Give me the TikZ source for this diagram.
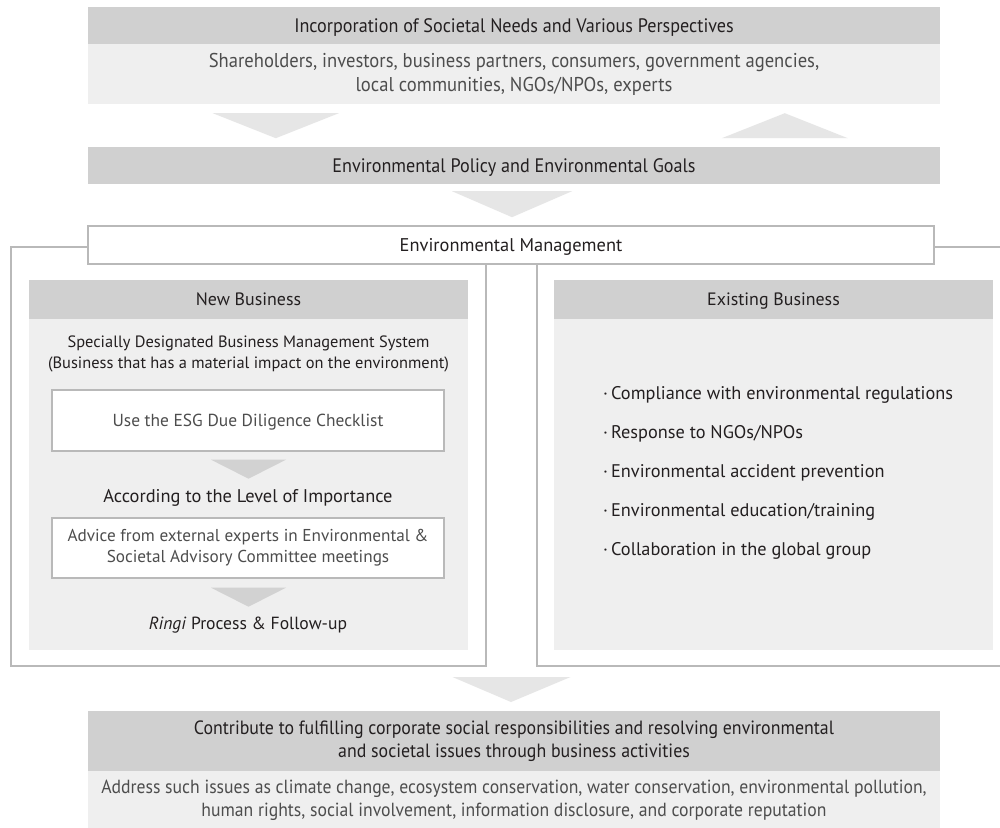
\documentclass[tikz,border=0pt]{standalone}
\usepackage{fontspec}
\setmainfont{PT Sans}
\newfontfamily\condf[FakeStretch=0.93]{PT Sans}
\usetikzlibrary{calc}
\definecolor{dgray}{HTML}{D0D0D0}
\definecolor{lgray}{HTML}{EFEFEF}
\definecolor{agray}{HTML}{E6E6E6}
\definecolor{igray}{HTML}{D2D2D2}
\definecolor{bgray}{HTML}{B9B9B9}
\definecolor{tdark}{HTML}{231F20}
\definecolor{tlight}{HTML}{4D4D4D}
\tikzset{
  darkbox/.style={fill=dgray, draw=none, inner sep=0pt, align=center, text=tdark,
    font=\condf\fontsize{19.5}{23}\selectfont},
  lightbox/.style={fill=lgray, draw=none, inner sep=0pt, align=center, text=tlight,
    font=\condf\fontsize{20}{24}\selectfont},
  oneline/.style={text depth=0pt},
  framebox/.style={fill=white, draw=bgray, line width=1.4pt, inner sep=0pt, align=center},
  subhead/.style={fill=dgray, draw=none, inner sep=0pt, align=center, text=tdark,
    text depth=0pt, font=\fontsize{17.9}{21}\selectfont},
  subbody/.style={fill=lgray, draw=none, inner sep=0pt},
  itemtext/.style={inner sep=0pt, align=center, text=tdark, font=\fontsize{18.4}{21}\selectfont},
  bullet/.style={inner sep=0pt, anchor=west, text=tdark, font=\fontsize{18.3}{21}\selectfont},
  frameline/.style={draw=bgray, line width=1.4pt},
  bigarrow/.style={fill=agray, draw=none},
  smallarrow/.style={fill=igray, draw=none}
}
\begin{document}
\begin{tikzpicture}[x=1pt,y=-1pt]
\useasboundingbox (0,0) rectangle (1000,827);
\fill[white] (0,0) rectangle (1000,827);

% top block
\node[darkbox, oneline, minimum width=852pt, minimum height=37pt] (h1) at (514,25.5)
  {Incorporation of Societal Needs and Various Perspectives};
\node[lightbox, minimum width=852pt, minimum height=60pt] (h1b) at (514,74)
  {Shareholders, investors, business partners, consumers, government agencies,\\local communities, NGOs/NPOs, experts};

% arrows between top and policy
\fill[bigarrow] ($(h1b.south west)+(125,9)$) -- ++(126,0) -- ($(h1b.south west)+(188,34)$) -- cycle;
\fill[bigarrow] ($(h1b.south west)+(634,34)$) -- ++(126,0) -- ($(h1b.south west)+(697,9)$) -- cycle;

\node[darkbox, oneline, minimum width=852pt, minimum height=37pt] (pol) at (514,165.5)
  {Environmental Policy and Environmental Goals};

\fill[bigarrow] ($(pol.south)+(-62,7)$) -- ++(120,0) -- ($(pol.south)+(-2,33)$) -- cycle;

% environmental management
\node[framebox, oneline, minimum width=846pt, minimum height=38pt, font=\fontsize{18.4}{21}\selectfont, text=tdark] (env) at (511,245)
  {Environmental Management};

\coordinate (lf1) at (11,247);
\coordinate (lf2) at (11,666);
\coordinate (lf3) at (486,666);
\coordinate (lf4) at (486,264);
\draw[frameline] (env.west |- lf1) -- (lf1) -- (lf2) -- (lf3) -- (lf4);

\coordinate (rf1) at (1001,247);
\coordinate (rf2) at (537,264);
\coordinate (rf3) at (537,666);
\coordinate (rf4) at (1001,666);
\draw[frameline] (env.east |- rf1) -- (rf1);
\draw[frameline] (rf2) -- (rf3) -- (rf4);

% New Business
\node[subhead, minimum width=439pt, minimum height=39pt] (nbh) at (248.5,299.5) {New Business};
\node[subbody, minimum width=439pt, minimum height=331pt] (nbb) at (248.5,484.5) {};
\node[itemtext, font=\fontsize{16.4}{21}\selectfont] (sdb) at (248.5,353.5)
  {Specially Designated Business Management System\\(Business that has a material impact on the environment)};
\node[framebox, oneline, minimum width=392pt, minimum height=61pt, text=tlight, font=\fontsize{17.4}{21}\selectfont] (esg) at (248,420.5)
  {Use the ESG Due Diligence Checklist};
\node[itemtext] (acc) at (248,498) {According to the Level of Importance};
\node[framebox, minimum width=392pt, minimum height=60pt, text=tlight, font=\fontsize{17.2}{21}\selectfont] (adv) at (248,548)
  {Advice from external experts in Environmental \&\\Societal Advisory Committee meetings};
\node[itemtext, font=\fontsize{17.6}{21}\selectfont] (ringi) at (248,625) {\textit{Ringi} Process \& Follow-up};

\fill[smallarrow] ($(esg.south)+(-37,8)$) -- ++(75,0) -- ($(esg.south)+(0.5,27)$) -- cycle;
\fill[smallarrow] ($(adv.south)+(-37,9)$) -- ++(75,0) -- ($(adv.south)+(0.5,28)$) -- cycle;

% Existing Business
\node[subhead, minimum width=439pt, minimum height=39pt] (ebh) at (773.5,299.5) {Existing Business};
\node[subbody, minimum width=439pt, minimum height=331pt] (ebb) at (773.5,484.5) {};
\node[bullet] (b1) at (603,395) {·\,Compliance with environmental regulations};
\node[bullet] (b2) at (603,434) {·\,Response to NGOs/NPOs};
\node[bullet] (b3) at (603,473) {·\,Environmental accident prevention};
\node[bullet] (b4) at (603,512) {·\,Environmental education/training};
\node[bullet] (b5) at (603,551) {·\,Collaboration in the global group};

% bottom
\fill[bigarrow] ($(lf3)!0.5!(rf3)+(-59,11)$) -- ++(118,0) -- ($(lf3)!0.5!(rf3)+(-0.5,36)$) -- cycle;

\node[darkbox, minimum width=852pt, minimum height=60pt, font=\condf\fontsize{19.2}{23}\selectfont] (res) at (514,741)
  {Contribute to fulfilling corporate social responsibilities and resolving environmental\\and societal issues through business activities};
\node[lightbox, minimum width=852pt, minimum height=58pt, font=\condf\fontsize{19}{23}\selectfont] (resb) at (514,800)
  {Address such issues as climate change, ecosystem conservation, water conservation, environmental pollution,\\human rights, social involvement, information disclosure, and corporate reputation};
\end{tikzpicture}
\end{document}
